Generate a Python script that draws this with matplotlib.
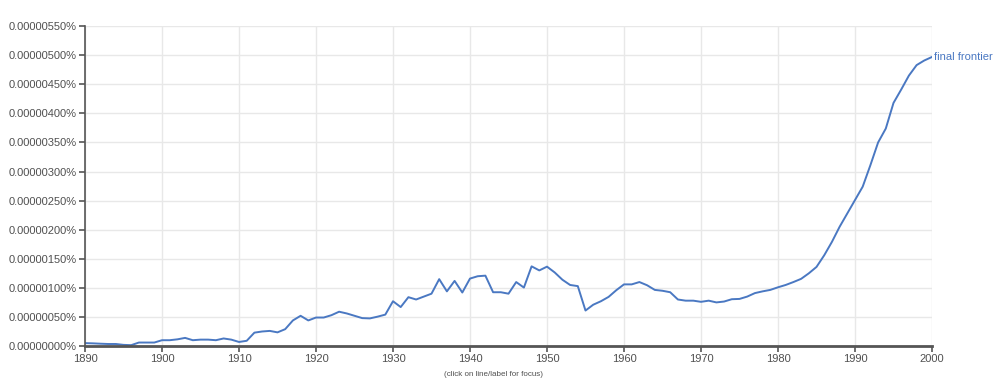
import matplotlib
matplotlib.use('Agg')
import matplotlib.pyplot as plt
from matplotlib.ticker import FuncFormatter

plt.rcParams['font.family'] = ['Liberation Sans', 'DejaVu Sans']

years = list(range(1890, 2001))

# frequency in units of 1e-8 percent (0.00000050% == 50)
freq = [5, 4.6, 4, 3.5, 3.5, 2, 1.5, 6, 6, 6,
        10, 10, 11.5, 14, 10, 11, 11, 10, 13, 11,
        7, 9, 23, 25, 26, 23.5, 29, 44, 52, 44,
        49, 49, 53, 59, 56, 52, 48, 47.5, 50.5, 54,
        77, 67, 84, 80, 85, 90, 115, 94, 112, 92,
        116, 120, 121, 92.5, 92.5, 90, 110, 100.5, 137, 130,
        136.5, 126.5, 114, 105, 103, 61, 71, 77, 84.5, 96,
        106, 106, 110, 104.5, 96.5, 95, 92.5, 80, 78, 78,
        76, 78, 75, 76.5, 80.5, 81, 85, 91, 94, 96.5,
        101, 105, 110, 115.5, 125, 136, 156, 179, 205, 228,
        251, 274, 311, 350, 374, 418, 441, 465, 483, 491,
        497]

line_color = '#4a78c2'
text_color = '#505050'

fig = plt.figure(figsize=(10, 3.79), dpi=100)
ax = fig.add_axes([0.085, 0.087, 0.847, 0.844])

ax.plot(years, [v * 1e-8 for v in freq], color=line_color, lw=1.4)

ax.set_xlim(1890, 2000)
ax.set_ylim(0, 5.5e-6)
ax.set_xticks(range(1890, 2001, 10))
ax.set_yticks([i * 0.5e-6 for i in range(12)])
ax.yaxis.set_major_formatter(FuncFormatter(lambda v, p: '%.8f%%' % v))

ax.grid(True, color='#e8e8e8', lw=1)
ax.set_axisbelow(True)
for s in ['top', 'right']:
    ax.spines[s].set_visible(False)
ax.spines['left'].set_color('#555555')
ax.spines['left'].set_linewidth(1.2)
ax.spines['bottom'].set_color('#555555')
ax.spines['bottom'].set_linewidth(2)
ax.tick_params(axis='both', colors='#555555', labelcolor=text_color,
               labelsize=8, length=4, width=1.2, pad=2)

ax.text(2000.3, freq[-1] * 1e-8, 'final frontier', color=line_color,
        fontsize=8, va='center', ha='left', clip_on=False)

fig.text(0.494, 0.003, '(click on line/label for focus)', color=text_color,
         fontsize=5.8, ha='center', va='bottom')

fig.savefig('out.png', dpi=100, facecolor='white')
